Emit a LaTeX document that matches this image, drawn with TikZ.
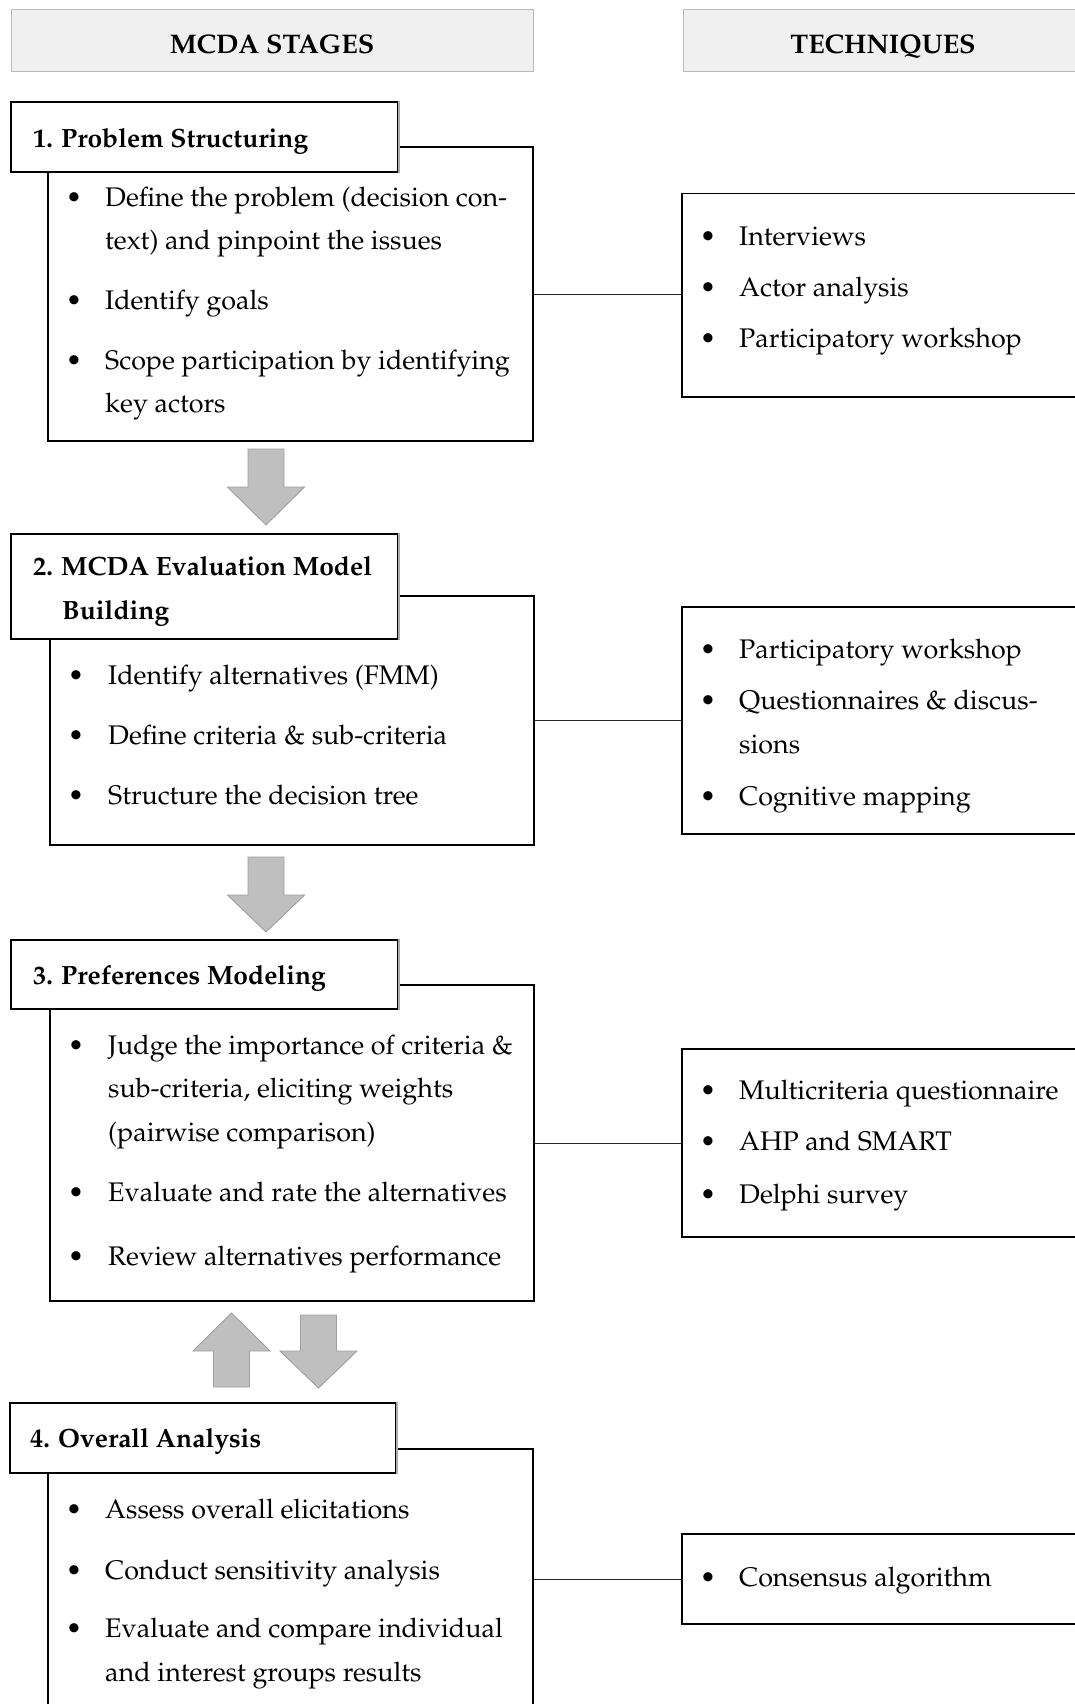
\documentclass[tikz,border=0pt]{standalone}
\usepackage[T1]{fontenc}
\usepackage{mathpazo}
\usetikzlibrary{fit}
\newcommand{\fs}{\fontsize{26.9}{30}\selectfont}
\newcommand{\fb}{\fontsize{26.4}{30}\selectfont\bfseries}
\newcommand{\fh}{\fontsize{26.9}{30}\selectfont\bfseries}
\newcommand{\itm}[5]{\node[bul] (#1b) at (#2,#4) {\textbullet}; \node[txt] (#1) at (#3,#4) {#5};}
\newcommand{\lne}[4]{\node[txt] (#1) at (#2,#3) {#4};}
\newcommand{\darr}[4]{\filldraw[bigarrow] (#1-18,#2) -- (#1+18,#2) -- (#1+18,#3) -- (#1+38.5,#3) -- (#1,#4) -- (#1-38.5,#3) -- (#1-18,#3) -- cycle;}
\newcommand{\grayedge}[1]{\draw[gray!65, line width=1.5pt] (#1.north east) -- (#1.south east);}
\tikzset{
 hdr/.style={draw=gray!55, fill=gray!12, line width=0.8pt, inner sep=0pt},
 ttl/.style={draw=black, fill=white, line width=1.5pt, inner sep=0pt},
 cnt/.style={draw=black, line width=1.5pt, inner sep=0pt},
 conn/.style={draw=black!85, line width=0.9pt},
 bigarrow/.style={fill=gray!50, draw=gray!75, line width=0.9pt},
 txt/.style={anchor=base west, inner sep=0pt, font=\fs, yshift=-1.5pt},
 ttltxt/.style={anchor=base west, inner sep=0pt, font=\fb, yshift=-1.5pt},
 bul/.style={anchor=base, inner sep=0pt, font=\fs, yshift=-1.5pt},
}
\begin{document}
\begin{tikzpicture}[x=1pt,y=-1pt]
\useasboundingbox (0,0) rectangle (1075,1704);
\clip (0,0) rectangle (1075,1704);
% headers
\node[hdr, fit={(11,9)(533,71)}] (h1) {};
\node[anchor=base, inner sep=0pt, font=\fh, yshift=-1.5pt] (h1t) at (272,52) {MCDA STAGES};
\node[hdr, fit={(683,9)(1090,71)}] (h2) {};
\node[anchor=base, inner sep=0pt, font=\fh, yshift=-1.5pt] (h2t) at (883,52) {TECHNIQUES};
% ---- stage 1
\node[cnt, fit={(48,147)(533,441)}] (c1) {};
\node[ttl, fit={(11,102)(398,172)}] (s1) {};
\grayedge{s1}
\node[ttltxt] (s1t) at (33,146) {1. Problem Structuring};
\itm{a1}{74}{105}{205}{Define the problem (decision con-}
\lne{a1x}{105}{248}{text) and pinpoint the issues}
\itm{a2}{74}{105}{308}{Identify goals}
\itm{a3}{74}{105}{368}{Scope participation by identifying}
\lne{a3x}{105}{411}{key actors}
\node[cnt, fit={(682,193.5)(1090,397)}] (t1) {};
\itm{b1}{708}{739}{244}{Interviews}
\itm{b2}{708}{739}{295}{Actor analysis}
\itm{b3}{708}{739}{346}{Participatory workshop}
\draw[conn] (c1.east) -- (c1.east -| t1.west);
\darr{266}{449}{487}{525}
% ---- stage 2
\node[cnt, fit={(50,596)(534,845)}] (c2) {};
\node[ttl, fit={(11,534)(398,639)}] (s2) {};
\grayedge{s2}
\node[ttltxt] (s2t) at (33,574) {2. MCDA Evaluation Model};
\node[ttltxt] (s2u) at (62,618) {Building};
\itm{d1}{76}{108}{683}{Identify alternatives (FMM)}
\itm{d2}{76}{108}{743}{Define criteria \& sub-criteria}
\itm{d3}{76}{108}{803}{Structure the decision tree}
\node[cnt, fit={(682,607)(1090,834)}] (t2) {};
\itm{e1}{708}{739}{657}{Participatory workshop}
\itm{e2}{708}{739}{708}{Questionnaires \& discus-}
\lne{e2x}{739}{752}{sions}
\itm{e3}{708}{739}{804}{Cognitive mapping}
\draw[conn] (c2.east) -- (c2.east -| t2.west);
\darr{266}{857}{895}{932}
% ---- stage 3
\node[cnt, fit={(50,985)(534,1301)}] (c3) {};
\node[ttl, fit={(11,940)(398,1009)}] (s3) {};
\grayedge{s3}
\node[ttltxt] (s3t) at (33,983) {3. Preferences Modeling};
\itm{f1}{76}{108}{1053}{Judge the importance of criteria \&}
\lne{f1x}{108}{1096}{sub-criteria, eliciting weights}
\lne{f1y}{108}{1140}{(pairwise comparison)}
\itm{f2}{76}{108}{1200}{Evaluate and rate the alternatives}
\itm{f3}{76}{108}{1264}{Review alternatives performance}
\node[cnt, fit={(682,1049)(1090,1237)}] (t3) {};
\itm{g1}{708}{739}{1098}{Multicriteria questionnaire}
\itm{g2}{708}{739}{1149}{AHP and SMART}
\itm{g3}{708}{739}{1202}{Delphi survey}
\draw[conn] (c3.east) -- (c3.east -| t3.west);
\darr{231.5}{1387}{1351}{1313}
\darr{318.5}{1315}{1351}{1388}
% ---- stage 4
\node[cnt, fit={(48,1449)(533,1740)}] (c4) {};
\node[ttl, fit={(10,1403)(396,1473)}] (s4) {};
\grayedge{s4}
\node[ttltxt] (s4t) at (30,1446) {4. Overall Analysis};
\itm{k1}{74}{105}{1517}{Assess overall elicitations}
\itm{k2}{74}{105}{1578}{Conduct sensitivity analysis}
\itm{k3}{74}{105}{1636}{Evaluate and compare individual}
\lne{k3x}{105}{1680}{and interest groups results}
\node[cnt, fit={(682,1534)(1090,1624)}] (t4) {};
\itm{m1}{708}{739}{1585}{Consensus algorithm}
\draw[conn] (t4.west) -- (t4.west -| c4.east);
\end{tikzpicture}
\end{document}
